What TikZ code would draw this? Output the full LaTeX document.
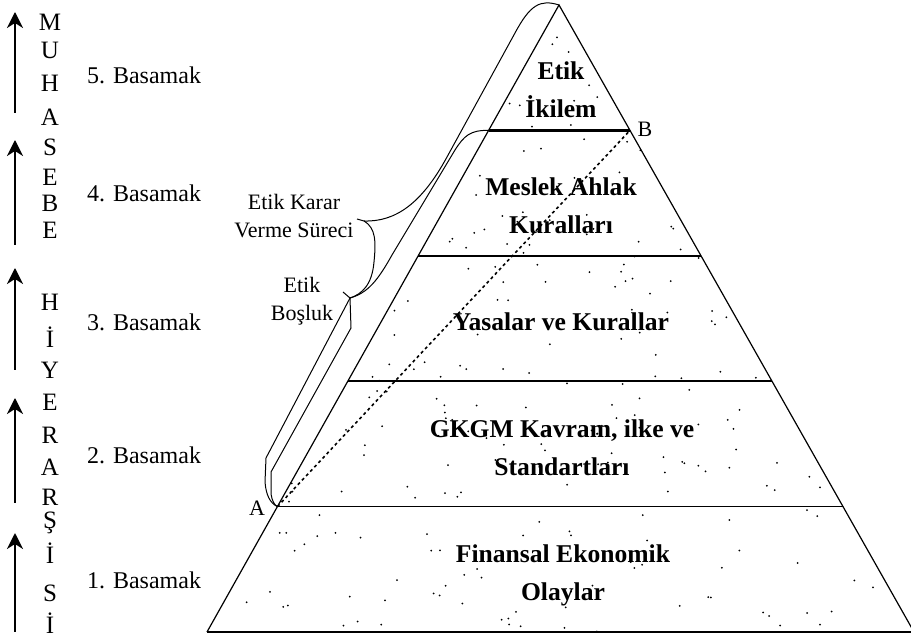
\documentclass[tikz,border=0pt]{standalone}
\usepackage{fontspec}
\setmainfont{Liberation Serif}
\usetikzlibrary{calc,arrows.meta}

\tikzset{
  katman/.style={font=\fontsize{12.8}{19}\selectfont\bfseries, align=center},
  basamak/.style={font=\fontsize{12}{14}\selectfont, anchor=west, text depth=0pt},
  harf/.style={font=\fontsize{12.5}{14}\selectfont, text depth=0pt, inner sep=0pt},
  aciklama/.style={font=\fontsize{11}{14}\selectfont, align=center},
  yukari/.style={line width=1.1pt, -{Stealth[length=8pt,width=8pt,inset=2.5pt]}},
  kenar/.style={line width=0.6pt},
  kat/.style={line width=0.8pt},
  ayrac/.style={line width=0.5pt},
}

\begin{document}
\begin{tikzpicture}[x=0.5pt,y=-0.5pt]
%%%%% CERCEVE %%%%%
\fill[white] (0,0) rectangle (911,640);
\useasboundingbox (0,0) rectangle (911,640);

\coordinate (tepe) at (559,5);
\coordinate (solalt) at (207,632);
\coordinate (sagalt) at (914,632);
\coordinate (A) at ($(tepe)!0.8!(solalt)$);
\coordinate (B) at ($(tepe)!0.2!(sagalt)$);
\coordinate (ustsol) at ($(tepe)!0.2!(solalt)$);
\coordinate (kararuc) at (364,221);
\coordinate (boslukuc) at (350,298);

%%%%% NOKTALAR %%%%%
\begin{scope}
  \clip (tepe) -- (solalt) -- (sagalt) -- cycle;
  \pgfmathsetseed{31}
  \foreach \i in {1,...,220}{
    \pgfmathsetmacro\yy{5+627*sqrt(rnd)}
    \pgfmathsetmacro\yari{0.563*(\yy-5)}
    \pgfmathsetmacro\xx{559-\yari+2*\yari*rnd}
    \fill (\xx,\yy) circle (0.5pt);
  }
\end{scope}

%%%%% PIRAMIT %%%%%
\draw[kenar] (solalt) -- (tepe) -- (sagalt);
\draw[line width=1.1pt] (solalt) -- (sagalt);
\draw[line width=1.3pt] (ustsol) -- (B);
\foreach \t in {0.4,0.6,0.8}
  \draw[kat] ($(tepe)!\t!(solalt)$) -- ($(tepe)!\t!(sagalt)$);
\draw[kat, dash pattern=on 1.5pt off 1.5pt] (A) -- (B);

\node[katman] (ikilem) at (561,90) {Etik\\İkilem};
\node[katman] (meslek) at (561,206) {Meslek Ahlak\\Kuralları};
\node[katman] (yasalar) at (561,322) {Yasalar ve Kurallar};
\node[katman] (gkgm) at (562,448) {GKGM Kavram, ilke ve\\Standartları};
\node[katman] (finansal) at (563,575) {Finansal Ekonomik\\Olaylar};

\node[aciklama] (etA) at (257,508) {A};
\node[aciklama] (etB) at (645,129) {B};

%%%%% AYRACLAR %%%%%
\draw[ayrac] (tepe) .. controls (540,-1) and (530,5) .. (515,33) -- (447,157)
  .. controls (422,203) and (396,222) .. (kararuc);
\draw[ayrac] (kararuc) .. controls (376,228) and (376,242) .. (374,262)
  .. controls (372,285) and (362,294) .. (boslukuc);
\draw[ayrac] (ustsol) .. controls (470,130) and (464,136) .. (455,150) -- (392,255)
  .. controls (378,280) and (368,293) .. (boslukuc);
\draw[ayrac] (kararuc) -- ++(-7,-2);
\draw[ayrac] (boslukuc) -- ++(-7,-6);
\draw[ayrac] (boslukuc) -- (266,458) -- (265,482) .. controls (266,495) and (270,503) .. (A);
\draw[ayrac] (boslukuc) -- (351,328) -- (271,472) -- (271,494)
  .. controls (272,500) and (274,505) .. (A);

\node[aciklama] (karar) at (294,216) {Etik Karar\\Verme Süreci};
\node[aciklama] (bosluk) at (302,301) {Etik\\Boşluk};

%%%%% HIYERARSI %%%%%
\foreach \alt/\ust in {113/12, 245/140, 370/268, 503/398, 632/533}
  \draw[yukari] (15,\alt) -- (15,\ust);
\foreach \h/\y [count=\n] in {M/22, U/50, H/83, A/117, S/147, E/177, B/203, E/230,
    H/302, İ/337, Y/370, E/402, R/435, A/467, R/497, Ş/520, İ/553, S/593, İ/623}
  \node[harf] (harf\n) at (50,\y) {\h};
\foreach \s/\y in {5/75, 4/193, 3/322, 2/455, 1/580}
  \node[basamak] (basamak\s) at (80,\y) {\s. Basamak};

\end{tikzpicture}
\end{document}
